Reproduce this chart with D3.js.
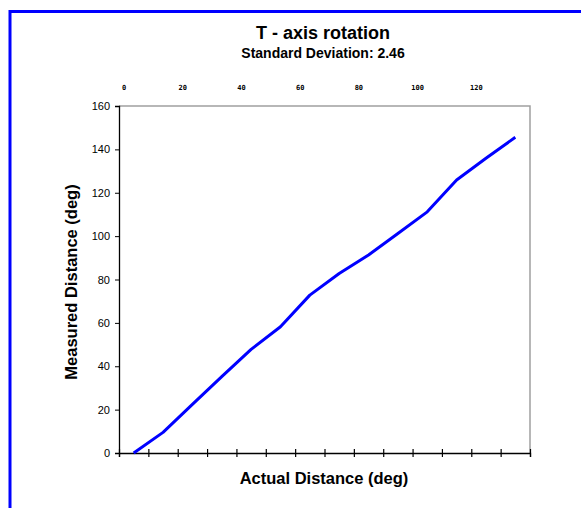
<!DOCTYPE html>
<html>
<head>
<meta charset="utf-8">
<script src="https://cdn.jsdelivr.net/npm/d3@7"></script>
<style>
  body { margin: 0; background: #fff; }
  svg { display: block; font-family: "Liberation Sans", Arial, sans-serif; }
</style>
</head>
<body>
<script>
// chart values
var actualDistance = [5, 15, 25, 35, 45, 55, 65, 75, 85, 95, 105, 115, 125, 135];
var measuredDistance = [0, 9.5, 22.4, 35.2, 47.8, 58.2, 72.8, 82.8, 91.3, 101.2, 111.2, 125.9, 135.9, 145.6];
var xTicks = d3.range(0, 141, 10);
var yTicks = [0, 20, 40, 60, 80, 100, 120, 140, 160];
var topLabels = [0, 20, 40, 60, 80, 100, 120];

window.onload = drawChart();

function drawChart() {
    var width = 581, height = 508;
    var plot = {left: 119, right: 530, top: 106, bottom: 453};

    var svg = d3.select("body")
        .append("svg")
        .attr("width", width)
        .attr("height", height);

    svg.append("rect")
        .attr("width", width)
        .attr("height", height)
        .attr("fill", "#fff");

    // blue frame (top and left edges only are visible)
    svg.append("path")
        .attr("d", "M10," + height + "V11.5H" + width)
        .attr("fill", "none")
        .attr("stroke", "#0000ff")
        .attr("stroke-width", 3);

    var x = d3.scaleLinear().domain([0, 140]).range([plot.left, plot.right]);
    var y = d3.scaleLinear().domain([0, 160]).range([plot.bottom, plot.top]);

    // grey plot border on top and right
    svg.append("path")
        .attr("d", "M" + plot.left + "," + plot.top + "H" + plot.right + "V" + plot.bottom)
        .attr("fill", "none")
        .attr("stroke", "#a0a0a0")
        .attr("stroke-width", 1.5);

    // y axis
    var yAxis = svg.append("g")
        .attr("transform", "translate(" + plot.left + ",0)")
        .call(d3.axisLeft(y).tickValues(yTicks).tickSize(4).tickPadding(5));
    yAxis.select(".domain").attr("stroke", "#000").attr("stroke-width", 1.3);
    yAxis.selectAll("text")
        .attr("font-size", 11)
        .attr("font-family", "Liberation Sans, Arial, sans-serif")
        .attr("fill", "#000");

    // x axis: ticks cross the axis line, no labels below
    var xAxis = svg.append("g")
        .attr("transform", "translate(0," + plot.bottom + ")")
        .call(d3.axisBottom(x).tickValues(xTicks).tickSize(4).tickFormat(""));
    xAxis.select(".domain").attr("stroke", "#000").attr("stroke-width", 1.3);
    xAxis.selectAll(".tick line").attr("y1", -4).attr("stroke-width", 1.2);

    // small (barely legible) labels above the plot
    svg.selectAll(".topLabel")
        .data(topLabels)
        .enter()
        .append("text")
        .attr("class", "topLabel")
        .attr("x", function(d) { return x(d) + 5; })
        .attr("y", 90)
        .attr("text-anchor", "middle")
        .attr("font-size", 7)
        .attr("font-weight", "bold")
        .attr("font-family", "DejaVu Sans Mono, monospace")
        .attr("fill", "#000")
        .text(function(d) { return d; });

    // data line
    var line = d3.line()
        .x(function(d, i) { return x(actualDistance[i]); })
        .y(function(d) { return y(d); });

    svg.append("path")
        .datum(measuredDistance)
        .attr("d", line)
        .attr("fill", "none")
        .attr("stroke", "#0000ff")
        .attr("stroke-width", 3)
        .attr("stroke-linejoin", "round");

    // titles
    svg.append("text")
        .attr("x", 323)
        .attr("y", 39)
        .attr("text-anchor", "middle")
        .attr("font-size", 18)
        .attr("font-weight", "bold")
        .text("T - axis rotation");

    svg.append("text")
        .attr("x", 323)
        .attr("y", 58)
        .attr("text-anchor", "middle")
        .attr("font-size", 14)
        .attr("font-weight", "bold")
        .text("Standard Deviation: 2.46");

    svg.append("text")
        .attr("x", 324)
        .attr("y", 484)
        .attr("text-anchor", "middle")
        .attr("font-size", 16.5)
        .attr("font-weight", "bold")
        .text("Actual Distance (deg)");

    svg.append("text")
        .attr("transform", "translate(77,282) rotate(-90)")
        .attr("text-anchor", "middle")
        .attr("font-size", 16.5)
        .attr("font-weight", "bold")
        .text("Measured Distance (deg)");
}
</script>
</body>
</html>
